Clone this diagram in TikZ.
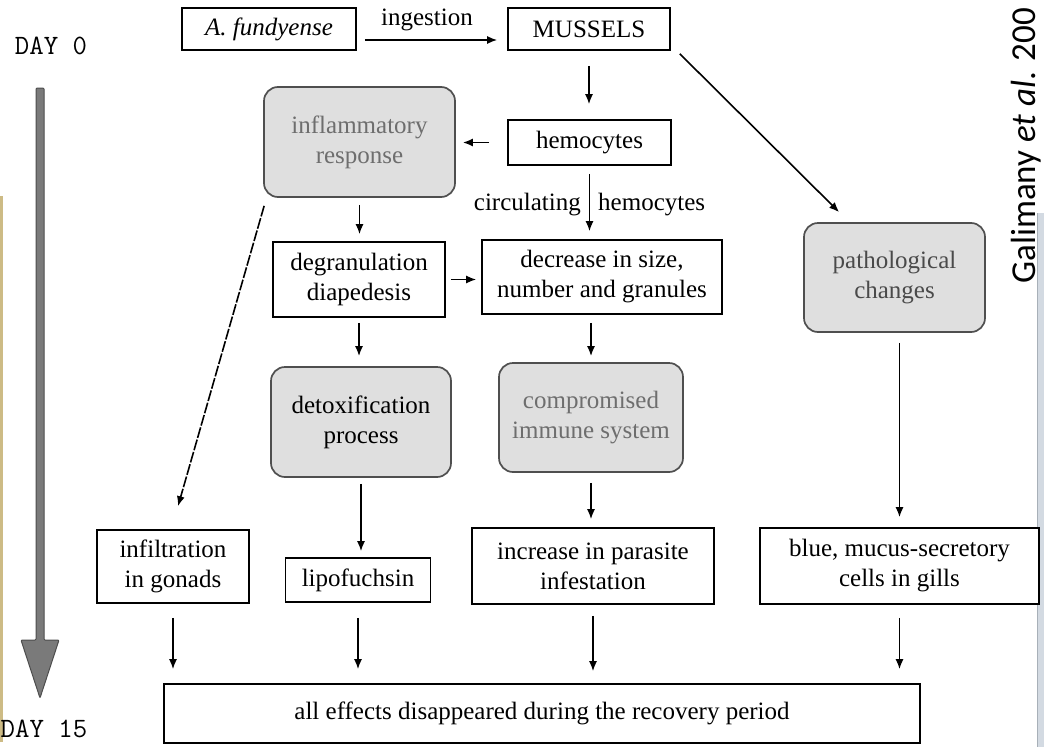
\documentclass[tikz,border=0pt]{standalone}
\usepackage{fontspec}
\setmainfont{Liberation Serif}
\newfontfamily\calfont{Carlito}
\usetikzlibrary{arrows.meta,calc}
\definecolor{boxfill}{HTML}{DFDFDF}
\definecolor{boxedge}{HTML}{4F4F4F}
\definecolor{graytxt}{HTML}{6E6E6E}
\definecolor{pathtxt}{HTML}{4A4A4A}
\definecolor{arrowgray}{HTML}{7A7A7A}
\definecolor{arrowedge}{HTML}{4D4D4D}
\definecolor{stripblue}{HTML}{D3DAE2}
\definecolor{stripedge}{HTML}{A8B0B8}
\definecolor{striptan}{HTML}{CDBB85}
\begin{document}
\begin{tikzpicture}[x=1pt,y=-1pt,
  every node/.style={font=\fontsize{25}{30}\selectfont},
  plainbox/.style={draw=black, line width=1.6pt, fill=white, inner sep=0pt, align=center},
  gbox/.style={draw=boxedge, line width=1.7pt, fill=boxfill, rounded corners=14pt, inner sep=0pt, align=center},
  lbl/.style={inner sep=0pt},
  daylbl/.style={inner sep=0pt, font=\fontsize{28}{30}\selectfont\ttfamily},
  arr/.style={line width=1.6pt, -{Latex[length=10pt,width=8pt]}},
  dasharr/.style={arr, dash pattern=on 11pt off 1.8pt}
]
\useasboundingbox (0,0) rectangle (1044,747);
% screenshot edges
\fill[striptan] (0,196) rectangle (3,742);
\fill[stripblue] (1037,213) rectangle (1044,747);
\draw[stripedge, line width=1pt] (1037,213) -- (1037,747);

% time axis
\node[daylbl] (day0) at (51,46) {DAY 0};
\node[daylbl] (day15) at (44,729) {DAY 15};
\filldraw[fill=arrowgray, draw=arrowedge, line width=1pt, rounded corners=1pt]
  (36,88) -- (44,88) -- (44,640) -- (59,640) -- (40,698) -- (21,640) -- (36,640) -- cycle;

% citation
\node[rotate=90, anchor=base west, inner sep=0pt, font=\calfont\fontsize{35}{38}\selectfont] (cite) at (1035,284) {Galimany \textit{et al}. 200};

% nodes
\node[plainbox, minimum width=174pt, minimum height=42pt] (fund) at (269,29) {\textit{A. fundyense}};
\node[plainbox, minimum width=162pt, minimum height=42pt] (mussels) at (589,29) {MUSSELS};
\node[plainbox, minimum width=163pt, minimum height=45pt] (hemo) at (589.5,142.5) {hemocytes};
\node[gbox, text=graytxt, minimum width=191pt, minimum height=110pt] (infl) at (359.5,142) {inflammatory\\response};
\node[plainbox, minimum width=172pt, minimum height=75pt] (degran) at (359,279.5) {degranulation\\diapedesis};
\node[plainbox, minimum width=240pt, minimum height=74pt] (decr) at (602,277) {decrease in size,\\number and granules};
\node[gbox, minimum width=180pt, minimum height=110pt] (detox) at (361,422) {detoxification\\process};
\node[gbox, text=graytxt, minimum width=184pt, minimum height=109pt] (comp) at (591,417.5) {compromised\\immune system};
\node[gbox, text=pathtxt, minimum width=181pt, minimum height=109pt] (patho) at (894.5,277.5) {pathological\\changes};
\node[plainbox, minimum width=152pt, minimum height=73pt] (infil) at (173,566.5) {infiltration\\in gonads};
\node[plainbox, minimum width=145pt, minimum height=44pt] (lipo) at (358,580) {lipofuchsin};
\node[plainbox, minimum width=242pt, minimum height=76pt] (incr) at (593,566) {increase in parasite\\infestation};
\node[plainbox, minimum width=279pt, minimum height=76pt] (blue) at (899.5,566) {blue, mucus-secretory\\cells in gills};
\node[plainbox, minimum width=756pt, minimum height=59pt] (final) at (542,713.5) {all effects disappeared during the recovery period};

% labels
\node[lbl] (ing) at (427,20) {ingestion};
\node[lbl, anchor=east] (circ) at (581,205) {circulating};
\node[lbl, anchor=west] (hemolbl) at (598,205) {hemocytes};

% connectors
\draw[arr] ($(fund.east)+(8,11)$) -- ($(mussels.west)+(-10,11)$);
\draw[arr, shorten <=15pt, shorten >=15pt] (mussels.south) -- (mussels.south |- hemo.north);
\draw[arr, shorten <=18pt, shorten >=7pt] (hemo.west) -- (hemo.west -| infl.east);
\draw[arr, shorten <=8pt, shorten >=8pt] (hemo.south) -- (hemo.south |- decr.north);
\draw[arr, shorten <=7pt, shorten >=7pt] (infl.south) -- (infl.south |- degran.north);
\draw[arr, shorten <=5pt, shorten >=5pt] (degran.east) -- (degran.east -| decr.west);
\draw[arr, shorten <=5pt, shorten >=10pt] (degran.south) -- (degran.south |- detox.north);
\draw[arr, shorten <=8pt, shorten >=6pt] (comp.north |- decr.south) -- (comp.north);
\draw[arr, shorten <=6pt, shorten >=6pt] (detox.south) -- (detox.south |- lipo.north);
\draw[arr, shorten <=10pt, shorten >=8pt] (comp.south) -- (comp.south |- incr.north);
\draw[arr] ($(mussels.south east)+(9,3)$) -- ($(patho.north west)+(36,-10)$);
\draw[arr, shorten <=10pt, shorten >=10pt] (blue.north |- patho.south) -- (blue.north);
\draw[dasharr] ($(infl.south west)+(1,8)$) -- ($(infil.north)+(5,-23)$);
\draw[arr, shorten <=14pt, shorten >=14pt] (infil.south) -- (infil.south |- final.north);
\draw[arr, shorten <=15pt, shorten >=14pt] (lipo.south) -- (lipo.south |- final.north);
\draw[arr, shorten <=11pt, shorten >=12pt] (incr.south) -- (incr.south |- final.north);
\draw[arr, shorten <=13pt, shorten >=14pt] (blue.south) -- (blue.south |- final.north);
\end{tikzpicture}
\end{document}
